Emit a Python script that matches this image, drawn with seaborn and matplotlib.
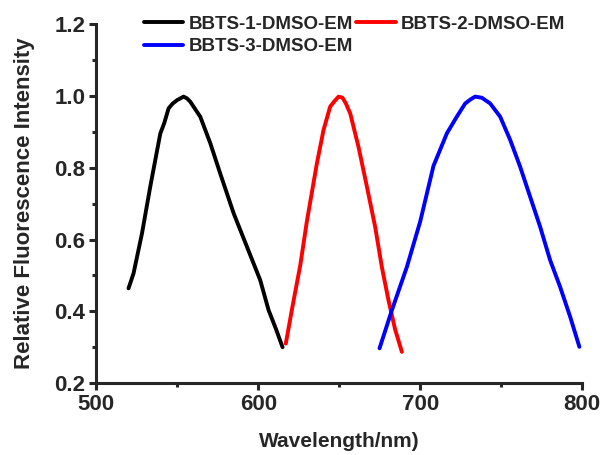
import pandas as pd
import matplotlib
matplotlib.use('Agg')
import matplotlib.pyplot as plt
import seaborn as sns
from matplotlib.ticker import MultipleLocator

# Werte
wl_1 = [519.9, 523, 528.2, 533.3, 539.5, 542, 544.6, 547, 549.8, 553.9, 556, 558, 564.2, 570.4, 576.5, 584.8, 593, 601.2, 606.4, 611, 615]
em_1 = [0.464, 0.506, 0.617, 0.747, 0.895, 0.925, 0.965, 0.978, 0.988, 0.998, 0.993, 0.984, 0.942, 0.868, 0.784, 0.673, 0.580, 0.487, 0.403, 0.35, 0.30]

wl_2 = [617, 621, 626, 630, 636.2, 640.3, 644.4, 647, 649.6, 652, 654, 656.8, 661.9, 667.1, 672.2, 676.3, 680.4, 684.6, 688.7]
em_2 = [0.31, 0.41, 0.53, 0.65, 0.812, 0.905, 0.970, 0.985, 0.998, 0.995, 0.98, 0.951, 0.858, 0.747, 0.635, 0.524, 0.431, 0.348, 0.287]

wl_3 = [674.9, 682.5, 691.8, 700, 708.2, 716.5, 722.6, 727.8, 731, 733.9, 738, 743.2, 749.4, 755.6, 761.7, 767.9, 774.1, 780.2, 786.4, 792.6, 798.3]
em_3 = [0.297, 0.403, 0.524, 0.650, 0.805, 0.896, 0.942, 0.979, 0.99, 0.998, 0.995, 0.979, 0.942, 0.877, 0.803, 0.719, 0.635, 0.543, 0.468, 0.385, 0.301]

names = ['BBTS-1-DMSO-EM', 'BBTS-2-DMSO-EM', 'BBTS-3-DMSO-EM']
colors = ['black', 'red', 'blue']

sns.set_style('ticks')
plt.rcParams['font.family'] = ['Liberation Sans', 'DejaVu Sans']
plt.rcParams['font.weight'] = 'bold'

fig = plt.figure(figsize=(6.02, 4.55), dpi=100)
ax = fig.add_axes([0.16, 0.158, 0.807, 0.789])

for wl, em, name, col in zip([wl_1, wl_2, wl_3], [em_1, em_2, em_3], names, colors):
    df = pd.DataFrame({'wl': wl, 'em': em})
    sns.lineplot(data=df, x='wl', y='em', color=col, linewidth=2.8, label=name, ax=ax)

ax.set_xlim(500, 800)
ax.set_ylim(0.2, 1.2)
ax.xaxis.set_major_locator(MultipleLocator(100))
ax.xaxis.set_minor_locator(MultipleLocator(50))
ax.yaxis.set_major_locator(MultipleLocator(0.2))
ax.yaxis.set_minor_locator(MultipleLocator(0.1))
ax.yaxis.set_major_formatter(matplotlib.ticker.FormatStrFormatter('%.1f'))

sns.despine(ax=ax)
for s in ['left', 'bottom']:
    ax.spines[s].set_linewidth(2.2)
ax.tick_params(which='major', direction='out', length=5, width=2.2, labelsize=16, pad=3)
ax.tick_params(which='minor', direction='out', length=3, width=2.2)
for lab in ax.get_xticklabels() + ax.get_yticklabels():
    lab.set_fontweight('bold')

ax.set_xlabel('Wavelength/nm)', fontsize=15, fontweight='bold', labelpad=12)
ax.set_ylabel('Relative Fluorescence Intensity', fontsize=16, fontweight='bold', labelpad=14)

# Reihenfolge so, dass Spalte 1 schwarz/blau und Spalte 2 rot zeigt
h, l = ax.get_legend_handles_labels()
order = [0, 2, 1]
ax.legend([h[i] for i in order], [l[i] for i in order], ncol=2, frameon=False,
          loc='upper left', bbox_to_anchor=(0.075, 1.055),
          prop={'weight': 'bold', 'size': 13.5}, handlelength=2.1,
          handletextpad=0.3, columnspacing=0.15, labelspacing=0.3,
          borderaxespad=0.2)

plt.savefig('out.png', dpi=100)
